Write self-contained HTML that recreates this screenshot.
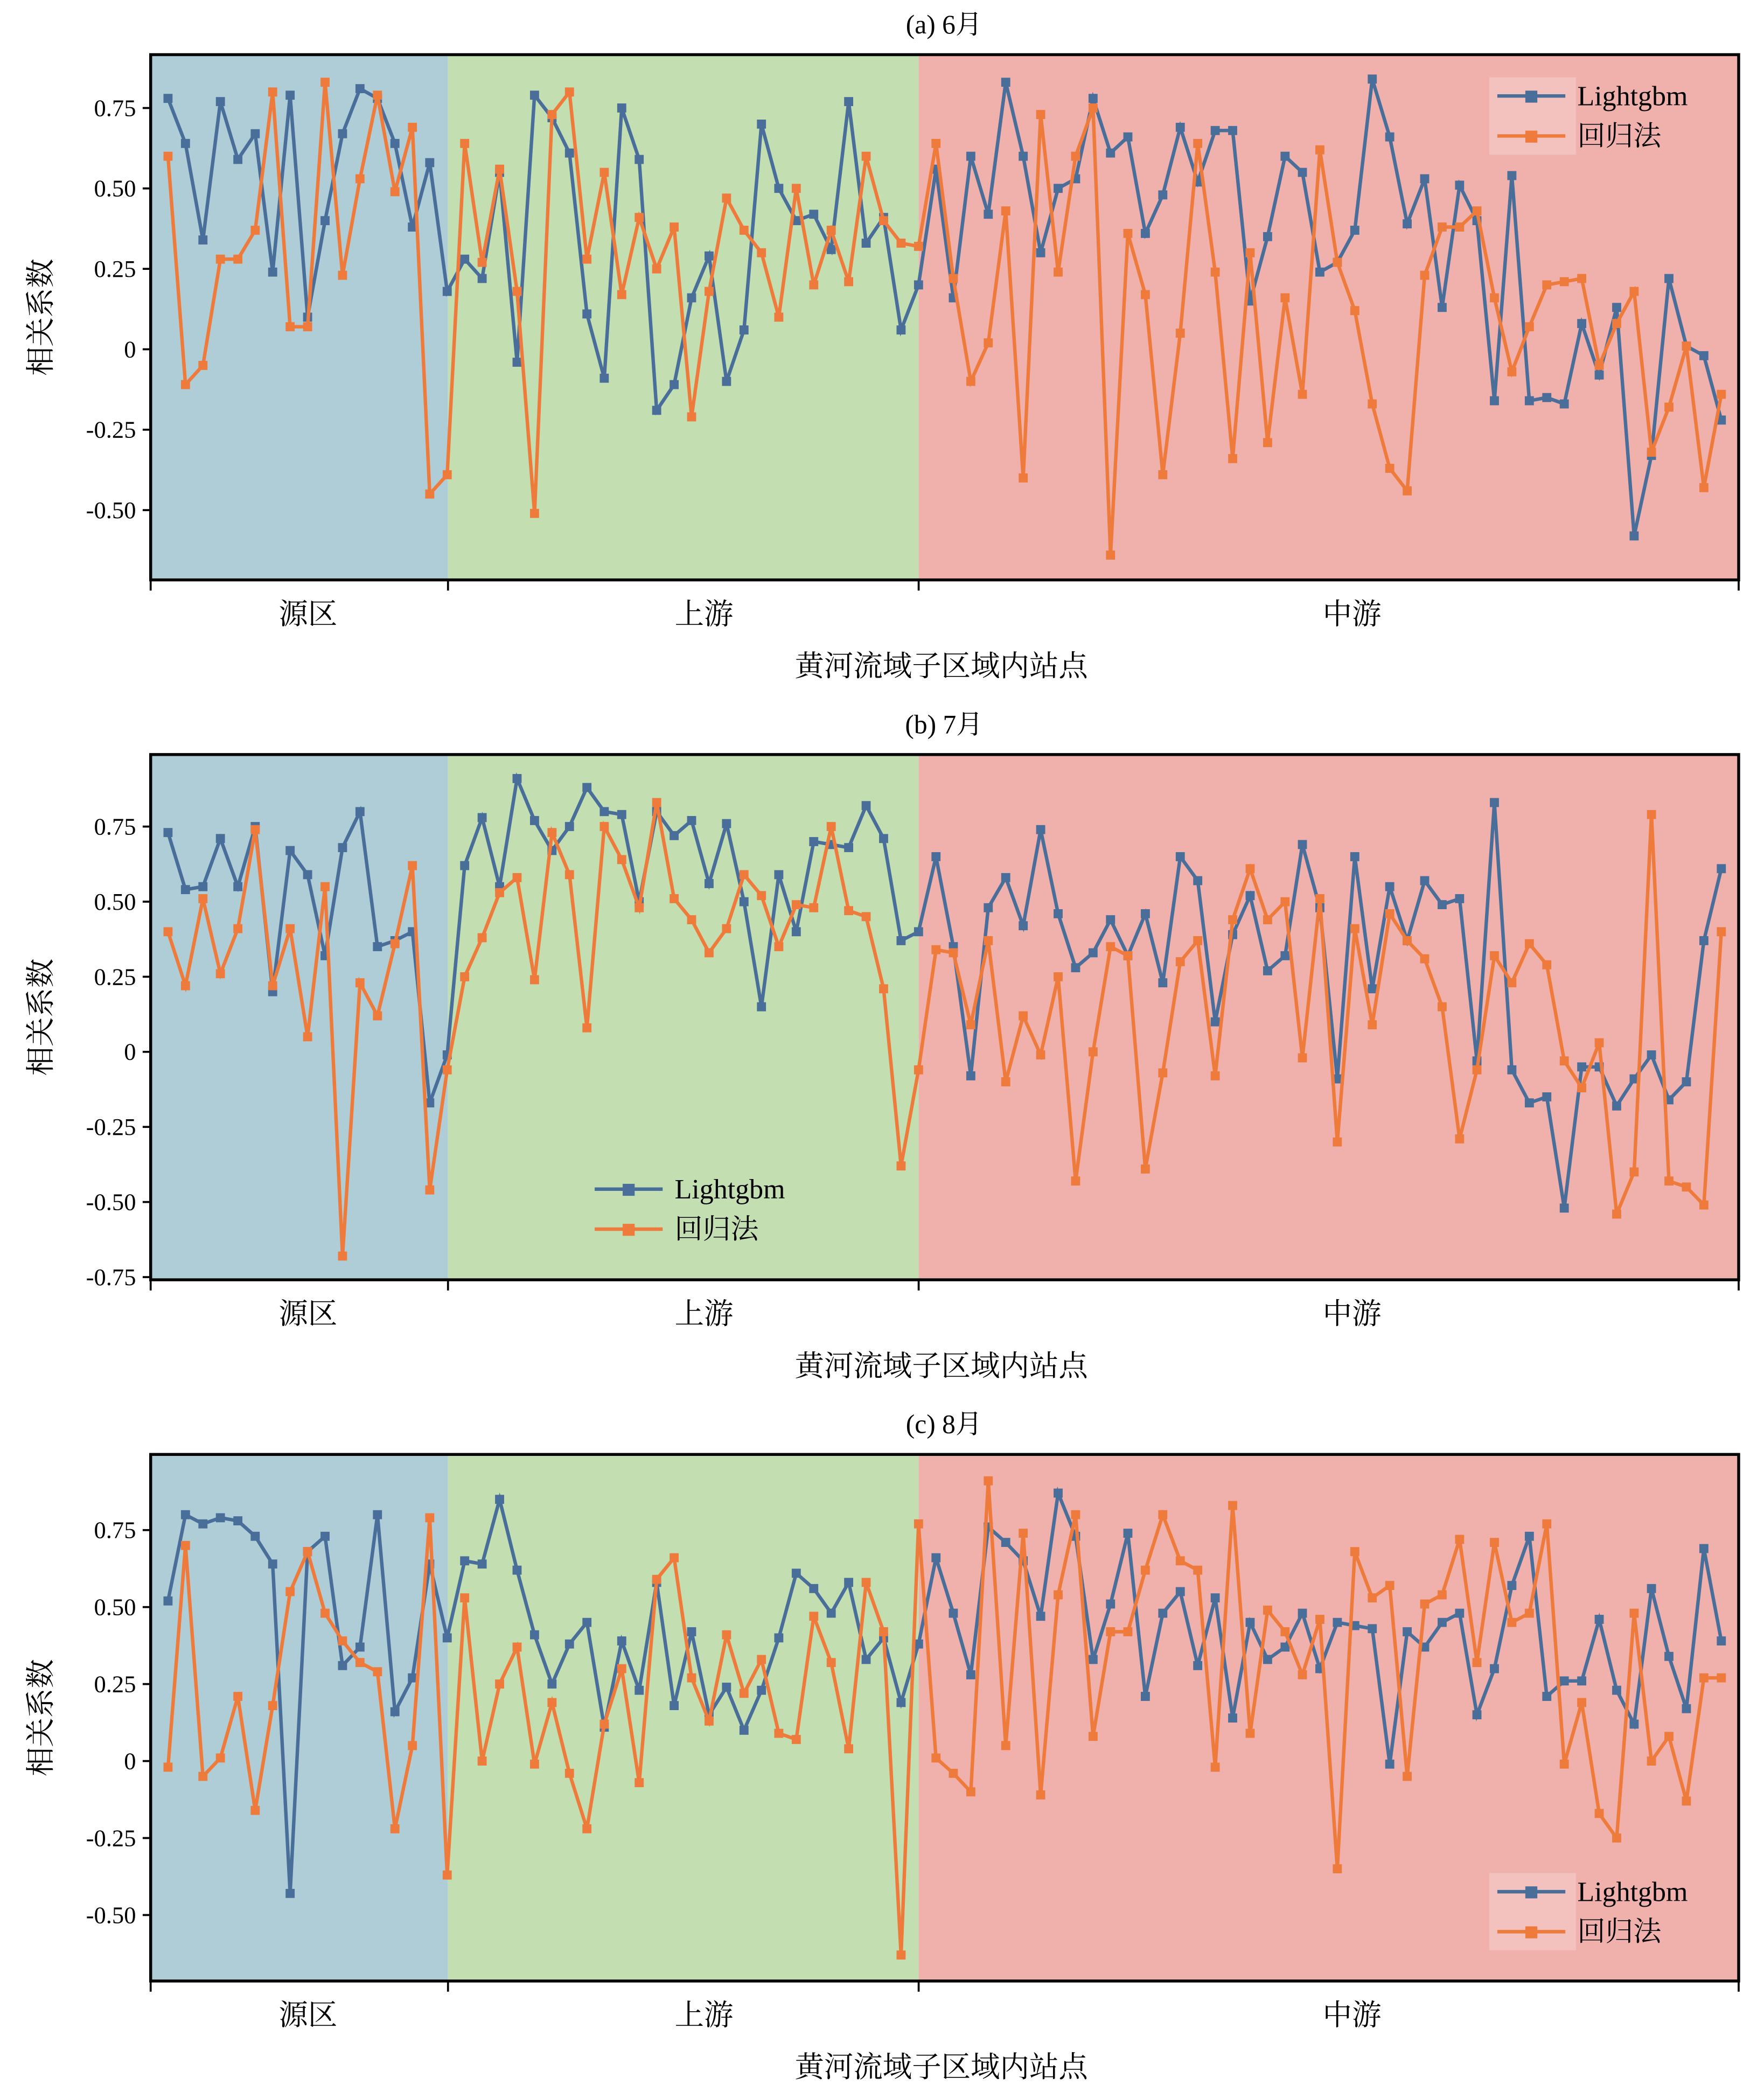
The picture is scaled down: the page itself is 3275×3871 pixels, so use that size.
<!DOCTYPE html>
<html><head><meta charset="utf-8"><style>html,body{margin:0;padding:0;background:#fff}svg{display:block}</style></head>
<body>
<svg id="s" xmlns="http://www.w3.org/2000/svg" width="3275" height="3871" viewBox="0 0 1323 1564" preserveAspectRatio="none" font-family="'Liberation Serif','Noto Serif CJK SC',serif"></svg>
<script>
const P=[
{top:41,bot:435,y0:262,u:241.3,ticks:[0.75,0.5,0.25,0,-0.25,-0.5],title:"(a) 6月",leg:[1117,58,1],
b:[0.78,0.64,0.34,0.77,0.59,0.67,0.24,0.79,0.10,0.40,0.67,0.81,0.78,0.64,0.38,0.58,0.18,0.28,0.22,0.55,-0.04,0.79,0.72,0.61,0.11,-0.09,0.75,0.59,-0.19,-0.11,0.16,0.29,-0.10,0.06,0.70,0.50,0.40,0.42,0.31,0.77,0.33,0.41,0.06,0.20,0.56,0.16,0.60,0.42,0.83,0.60,0.30,0.50,0.53,0.78,0.61,0.66,0.36,0.48,0.69,0.52,0.68,0.68,0.15,0.35,0.60,0.55,0.24,0.27,0.37,0.84,0.66,0.39,0.53,0.13,0.51,0.40,-0.16,0.54,-0.16,-0.15,-0.17,0.08,-0.08,0.13,-0.58,-0.33,0.22,0.01,-0.02,-0.22],
o:[0.60,-0.11,-0.05,0.28,0.28,0.37,0.80,0.07,0.07,0.83,0.23,0.53,0.79,0.49,0.69,-0.45,-0.39,0.64,0.27,0.56,0.18,-0.51,0.73,0.80,0.28,0.55,0.17,0.41,0.25,0.38,-0.21,0.18,0.47,0.37,0.30,0.10,0.50,0.20,0.37,0.21,0.60,0.40,0.33,0.32,0.64,0.22,-0.10,0.02,0.43,-0.40,0.73,0.24,0.60,0.75,-0.64,0.36,0.17,-0.39,0.05,0.64,0.24,-0.34,0.30,-0.29,0.16,-0.14,0.62,0.27,0.12,-0.17,-0.37,-0.44,0.23,0.38,0.38,0.43,0.16,-0.07,0.07,0.20,0.21,0.22,-0.05,0.08,0.18,-0.32,-0.18,0.01,-0.43,-0.14]},
{top:566,bot:960,y0:789,u:225.3,ticks:[0.75,0.5,0.25,0,-0.25,-0.5,-0.75],title:"(b) 7月",leg:[440,878,0],
b:[0.73,0.54,0.55,0.71,0.55,0.75,0.20,0.67,0.59,0.32,0.68,0.80,0.35,0.37,0.40,-0.17,-0.01,0.62,0.78,0.55,0.91,0.77,0.67,0.75,0.88,0.80,0.79,0.50,0.80,0.72,0.77,0.56,0.76,0.50,0.15,0.59,0.40,0.70,0.69,0.68,0.82,0.71,0.37,0.40,0.65,0.35,-0.08,0.48,0.58,0.42,0.74,0.46,0.28,0.33,0.44,0.32,0.46,0.23,0.65,0.57,0.10,0.39,0.52,0.27,0.32,0.69,0.48,-0.09,0.65,0.21,0.55,0.37,0.57,0.49,0.51,-0.03,0.83,-0.06,-0.17,-0.15,-0.52,-0.05,-0.05,-0.18,-0.09,-0.01,-0.16,-0.10,0.37,0.61],
o:[0.40,0.22,0.51,0.26,0.41,0.74,0.22,0.41,0.05,0.55,-0.68,0.23,0.12,0.36,0.62,-0.46,-0.06,0.25,0.38,0.53,0.58,0.24,0.73,0.59,0.08,0.75,0.64,0.48,0.83,0.51,0.44,0.33,0.41,0.59,0.52,0.35,0.49,0.48,0.75,0.47,0.45,0.21,-0.38,-0.06,0.34,0.33,0.09,0.37,-0.10,0.12,-0.01,0.25,-0.43,0.00,0.35,0.32,-0.39,-0.07,0.30,0.37,-0.08,0.44,0.61,0.44,0.50,-0.02,0.51,-0.30,0.41,0.09,0.46,0.37,0.31,0.15,-0.29,-0.06,0.32,0.23,0.36,0.29,-0.03,-0.12,0.03,-0.54,-0.40,0.79,-0.43,-0.45,-0.51,0.40]},
{top:1091,bot:1486,y0:1321,u:231,ticks:[0.75,0.5,0.25,0,-0.25,-0.5],title:"(c) 8月",leg:[1117,1405,1],
b:[0.52,0.80,0.77,0.79,0.78,0.73,0.64,-0.43,0.68,0.73,0.31,0.37,0.80,0.16,0.27,0.64,0.40,0.65,0.64,0.85,0.62,0.41,0.25,0.38,0.45,0.11,0.39,0.23,0.58,0.18,0.42,0.15,0.24,0.10,0.23,0.40,0.61,0.56,0.48,0.58,0.33,0.40,0.19,0.38,0.66,0.48,0.28,0.76,0.71,0.65,0.47,0.87,0.73,0.33,0.51,0.74,0.21,0.48,0.55,0.31,0.53,0.14,0.45,0.33,0.37,0.48,0.30,0.45,0.44,0.43,-0.01,0.42,0.37,0.45,0.48,0.15,0.30,0.57,0.73,0.21,0.26,0.26,0.46,0.23,0.12,0.56,0.34,0.17,0.69,0.39],
o:[-0.02,0.70,-0.05,0.01,0.21,-0.16,0.18,0.55,0.68,0.48,0.39,0.32,0.29,-0.22,0.05,0.79,-0.37,0.53,0.00,0.25,0.37,-0.01,0.19,-0.04,-0.22,0.12,0.30,-0.07,0.59,0.66,0.27,0.13,0.41,0.22,0.33,0.09,0.07,0.47,0.32,0.04,0.58,0.42,-0.63,0.77,0.01,-0.04,-0.10,0.91,0.05,0.74,-0.11,0.54,0.80,0.08,0.42,0.42,0.62,0.80,0.65,0.62,-0.02,0.83,0.09,0.49,0.42,0.28,0.46,-0.35,0.68,0.53,0.57,-0.05,0.51,0.54,0.72,0.32,0.71,0.45,0.48,0.77,-0.01,0.19,-0.17,-0.25,0.48,0.00,0.08,-0.13,0.27,0.27]}
];
const L=113,R=1304,B1=336,B2=689,BL="#4a6e9a",OR="#ee7b3b";
let h="";
function fmt(v){return v==0?"0":v.toFixed(2);}
function series(d,p,c){let pts=d.map((v,i)=>[126+i*(1291-126)/89,p.y0-v*p.u]);
 let s=`<polyline points="${pts.map(q=>q[0].toFixed(1)+","+q[1].toFixed(1)).join(" ")}" fill="none" stroke="${c}" stroke-width="2.6"/>`;
 pts.forEach(q=>s+=`<rect x="${(q[0]-3.4).toFixed(1)}" y="${(q[1]-3.4).toFixed(1)}" width="6.8" height="6.8" fill="${c}"/>`);return s;}
P.forEach(p=>{
 h+=`<rect x="${L}" y="${p.top}" width="${B1-L}" height="${p.bot-p.top}" fill="#afcdd6"/>`;
 h+=`<rect x="${B1}" y="${p.top}" width="${B2-B1}" height="${p.bot-p.top}" fill="#c3dfb2"/>`;
 h+=`<rect x="${B2}" y="${p.top}" width="${R-B2}" height="${p.bot-p.top}" fill="#f0b1ad"/>`;
 h+=series(p.b,p,BL)+series(p.o,p,OR);
 h+=`<rect x="${L}" y="${p.top}" width="${R-L}" height="${p.bot-p.top}" fill="none" stroke="#000" stroke-width="2.2"/>`;
 p.ticks.forEach(t=>{let y=p.y0-t*p.u;h+=`<line x1="${L-6}" x2="${L}" y1="${y}" y2="${y}" stroke="#000" stroke-width="1.5"/><text x="${L-11}" y="${y+6}" font-size="18" text-anchor="end">${fmt(t)}</text>`;});
 [L,B1,B2,R].forEach(x=>h+=`<line x1="${x}" x2="${x}" y1="${p.bot}" y2="${p.bot+8}" stroke="#000" stroke-width="1.5"/>`);
 [["源区",231],["上游",528],["中游",1014]].forEach(a=>h+=`<text x="${a[1]}" y="${p.bot+33}" font-size="22" text-anchor="middle">${a[0]}</text>`);
 h+=`<text x="706" y="${p.bot+72}" font-size="22" text-anchor="middle">黄河流域子区域内站点</text>`;
 h+=`<text x="708" y="${p.top-16}" font-size="20" text-anchor="middle">${p.title}</text>`;
 let yc=(p.top+p.bot)/2;h+=`<text transform="translate(38,${yc}) rotate(-90)" font-size="22" text-anchor="middle">相关系数</text>`;
 let [lx,ly,box]=p.leg;
 if(box)h+=`<rect x="${lx}" y="${ly}" width="65" height="58" fill="#fff" fill-opacity="0.22"/>`;
 h+=`<line x1="${lx+6}" x2="${lx+57}" y1="${ly+14}" y2="${ly+14}" stroke="${BL}" stroke-width="2.6"/><rect x="${lx+27}" y="${ly+10}" width="9" height="9" fill="${BL}"/>`;
 h+=`<line x1="${lx+6}" x2="${lx+57}" y1="${ly+44}" y2="${ly+44}" stroke="${OR}" stroke-width="2.6"/><rect x="${lx+27}" y="${ly+40}" width="9" height="9" fill="${OR}"/>`;
 h+=`<text x="${lx+66}" y="${ly+21}" font-size="21">Lightgbm</text><text x="${lx+66}" y="${ly+51}" font-size="21">回归法</text>`;
});
document.getElementById("s").innerHTML=h;
</script>
</body></html>
